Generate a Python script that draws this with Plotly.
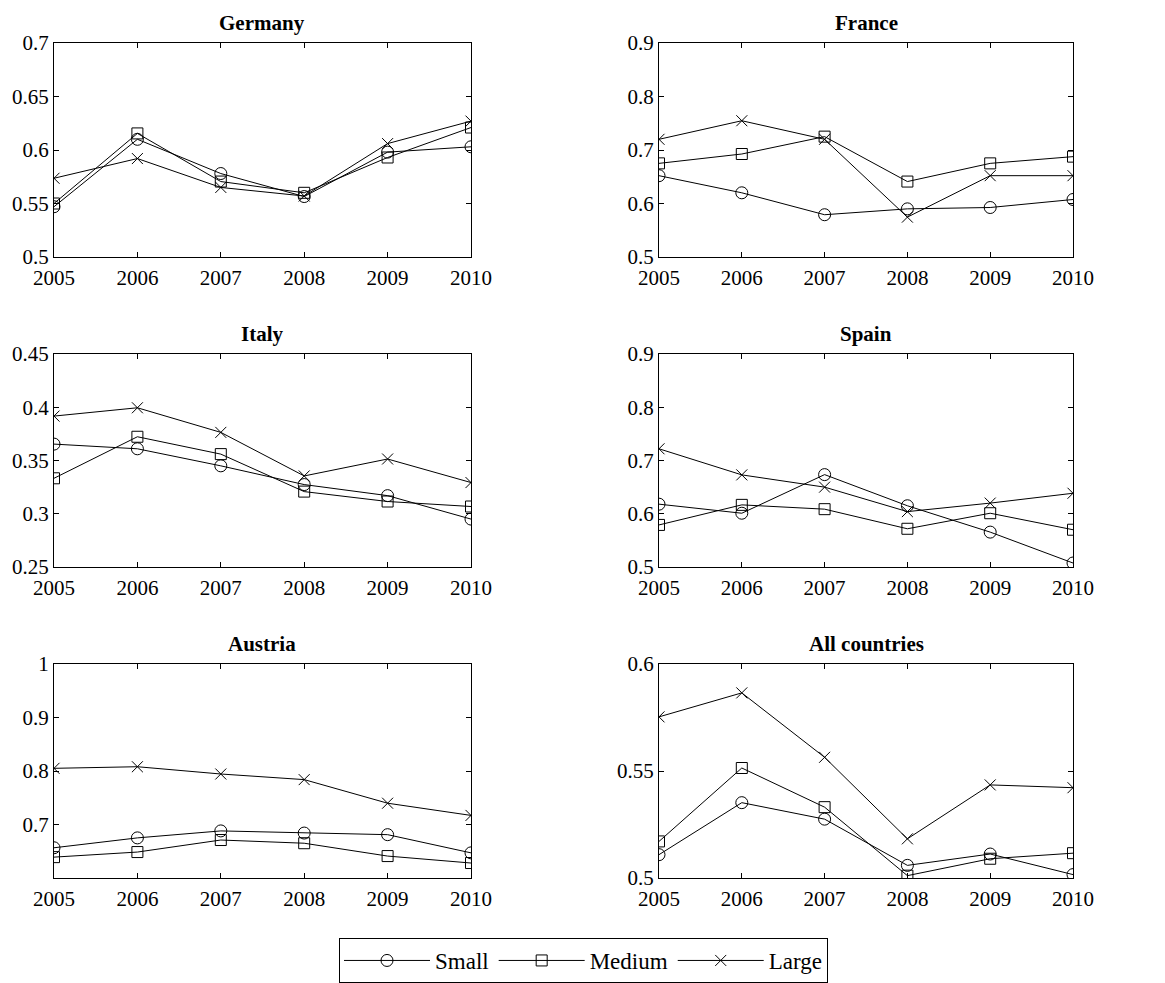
import plotly.graph_objects as go

years = [2005, 2006, 2007, 2008, 2009, 2010]
series_names = ["Small", "Medium", "Large"]

germany_small = [0.547, 0.610, 0.578, 0.5565, 0.598, 0.603]
germany_medium = [0.550, 0.6155, 0.5705, 0.560, 0.593, 0.621]
germany_large = [0.5736, 0.592, 0.565, 0.557, 0.606, 0.627]

france_small = [0.652, 0.620, 0.579, 0.590, 0.5925, 0.6075]
france_medium = [0.675, 0.6925, 0.725, 0.641, 0.675, 0.6876]
france_large = [0.720, 0.7547, 0.720, 0.5745, 0.652, 0.652]

italy_small = [0.3654, 0.361, 0.345, 0.3274, 0.317, 0.295]
italy_medium = [0.3333, 0.3723, 0.356, 0.3208, 0.3115, 0.3068]
italy_large = [0.3917, 0.3995, 0.3764, 0.3355, 0.3514, 0.3293]

spain_small = [0.618, 0.601, 0.6735, 0.615, 0.5655, 0.5075]
spain_medium = [0.579, 0.6167, 0.6086, 0.5718, 0.601, 0.570]
spain_large = [0.722, 0.673, 0.650, 0.604, 0.620, 0.6385]

austria_small = [0.6565, 0.675, 0.688, 0.684, 0.681, 0.647]
austria_medium = [0.639, 0.6485, 0.671, 0.665, 0.641, 0.628]
austria_large = [0.805, 0.808, 0.7944, 0.7839, 0.7398, 0.717]

all_small = [0.5109, 0.5352, 0.5275, 0.5059, 0.5112, 0.5016]
all_medium = [0.5171, 0.5514, 0.5331, 0.5011, 0.509, 0.5116]
all_large = [0.5753, 0.5865, 0.5564, 0.5183, 0.5435, 0.5422]

panel_titles = ["Germany", "France", "Italy", "Spain", "Austria", "All countries"]
panel_data = [
    (germany_small, germany_medium, germany_large),
    (france_small, france_medium, france_large),
    (italy_small, italy_medium, italy_large),
    (spain_small, spain_medium, spain_large),
    (austria_small, austria_medium, austria_large),
    (all_small, all_medium, all_large),
]
panel_yticks = [
    [0.5, 0.55, 0.6, 0.65, 0.7],
    [0.5, 0.6, 0.7, 0.8, 0.9],
    [0.25, 0.3, 0.35, 0.4, 0.45],
    [0.5, 0.6, 0.7, 0.8, 0.9],
    [0.7, 0.8, 0.9, 1.0],
    [0.5, 0.55, 0.6],
]
panel_yticklabels = [
    ["0.5", "0.55", "0.6", "0.65", "0.7"],
    ["0.5", "0.6", "0.7", "0.8", "0.9"],
    ["0.25", "0.3", "0.35", "0.4", "0.45"],
    ["0.5", "0.6", "0.7", "0.8", "0.9"],
    ["0.7", "0.8", "0.9", "1"],
    ["0.5", "0.55", "0.6"],
]
panel_yranges = [[0.5, 0.7], [0.5, 0.9], [0.25, 0.45], [0.5, 0.9], [0.6, 1.0], [0.5, 0.6]]

# page body has an 8px margin; the figure is laid out in its own pixel frame
OFF = 8
W, H = 1149, 975
col_px = [(54, 471), (659, 1073)]
row_px = [(43, 257), (354, 567), (664, 878)]

FONT = "Liberation Serif"
symbols = ["circle-open", "square-open", "x-thin-open"]
sizes = [12, 11, 11]

fig = go.Figure()

for i, (title, data) in enumerate(zip(panel_titles, panel_data)):
    r, c = divmod(i, 2)
    x0, x1 = col_px[c]
    y0, y1 = row_px[r]
    xd = [(x0 - OFF) / W, (x1 - OFF) / W]
    yd = [1 - (y1 - OFF) / H, 1 - (y0 - OFF) / H]
    ax = "" if i == 0 else str(i + 1)
    for j, vals in enumerate(data):
        fig.add_trace(go.Scatter(
            x=years, y=vals, mode="lines+markers",
            name=series_names[j], showlegend=(i == 0), legendgroup=series_names[j],
            line=dict(color="black", width=1),
            marker=dict(symbol=symbols[j], size=sizes[j], color="black",
                        line=dict(color="black", width=1)),
            xaxis="x" + ax, yaxis="y" + ax,
        ))
    axis_common = dict(showline=True, linecolor="black", linewidth=1, mirror="ticks",
                       ticks="inside", ticklen=5, tickcolor="black", showgrid=False,
                       zeroline=False, automargin=False,
                       tickfont=dict(family=FONT, size=21, color="black"))
    fig.update_layout(**{
        "xaxis" + ax: dict(domain=xd, range=[2005, 2010], tickvals=years,
                           ticktext=[str(y) for y in years], anchor="y" + ax,
                           ticklabelstandoff=2, **axis_common),
        "yaxis" + ax: dict(domain=yd, range=panel_yranges[i], tickvals=panel_yticks[i],
                           ticktext=panel_yticklabels[i], anchor="x" + ax, **axis_common),
    })
    fig.add_annotation(text="<b>" + title + "</b>", x=(xd[0] + xd[1]) / 2, y=yd[1],
                       xref="paper", yref="paper", xanchor="center", yanchor="bottom",
                       yshift=6, showarrow=False,
                       font=dict(family=FONT, size=21, color="black"))

fig.update_layout(
    template="none",
    width=W, height=H,
    margin=dict(l=0, r=0, t=0, b=0, autoexpand=False),
    paper_bgcolor="white", plot_bgcolor="white",
    font=dict(family=FONT, size=21, color="black"),
    showlegend=True,
    legend=dict(orientation="h", x=(583.5 - OFF) / W, xanchor="center",
                y=1 - (960.5 - OFF) / H, yanchor="middle",
                bordercolor="black", borderwidth=1, bgcolor="white",
                font=dict(family=FONT, size=23, color="black"),
                itemwidth=86, tracegroupgap=0),
)

fig.write_html("out.html")
